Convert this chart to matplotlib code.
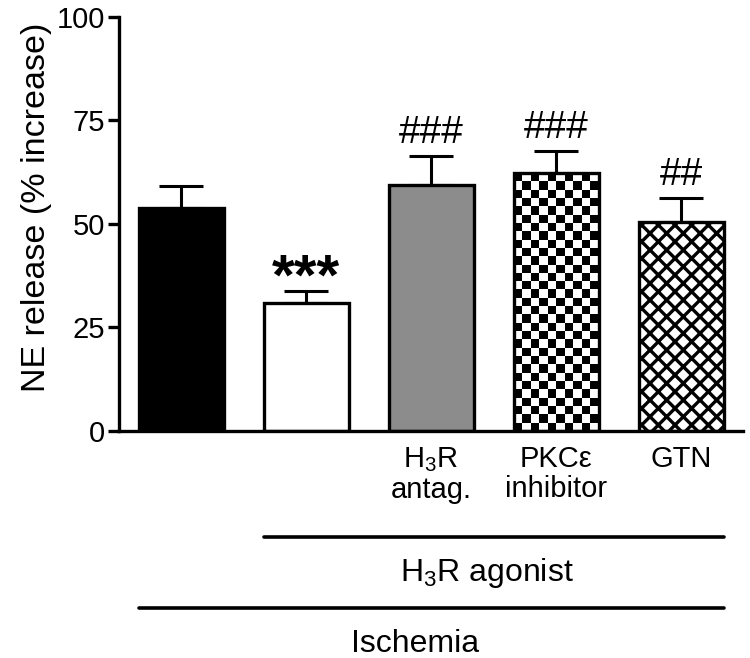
import numpy as np
import matplotlib
matplotlib.use("Agg")
import matplotlib.pyplot as plt

plt.rcParams['font.family'] = ['Liberation Sans', 'DejaVu Sans']
plt.rcParams['mathtext.fontset'] = 'custom'
plt.rcParams['mathtext.rm'] = 'Liberation Sans'
plt.rcParams['hatch.linewidth'] = 2.4

# data
groups = ["", "", "H$_3$R\nantag.", "PKC\u03b5\ninhibitor", "GTN"]
values = [53.9, 30.9, 59.4, 62.3, 50.5]
errors = [5.3, 2.9, 7.0, 5.3, 5.8]
marks = ["", "***", "###", "###", "##"]
yticks = [0, 25, 50, 75, 100]

x = np.arange(len(values))
width = 0.68

fig = plt.figure(figsize=(7.5, 6.58), dpi=100)
ax = fig.add_axes([0.1587, 0.3450, 0.832, 0.6292])

faces = ["black", "white", "#8c8c8c", "none", "white"]
hatches = [None, None, None, None, "xx"]
bars = ax.bar(x, values, width=width, color=faces, edgecolor="black",
              linewidth=2.4, zorder=2)
for b, h in zip(bars, hatches):
    if h:
        b.set_hatch(h)

# checkerboard fill for the PKCe inhibitor bar
b4 = bars[3]
ncol, nrow = 10, int(round(values[3] / 2.0))
board = np.indices((nrow, ncol)).sum(axis=0) % 2
im = ax.imshow(board, cmap="gray", interpolation="nearest", aspect="auto",
               extent=(x[3] - width / 2, x[3] + width / 2, 0, values[3]),
               zorder=1.5)
im.set_clip_path(b4)

ax.errorbar(x, values, yerr=[np.zeros(len(errors)), errors], fmt="none",
            ecolor="black", elinewidth=2.2, capsize=16, capthick=2.2, zorder=1)

for xi, v, e, m in zip(x, values, errors, marks):
    if m == "***":
        ax.text(xi, v + e - 0.8, m, ha="center", va="baseline", fontsize=42,
                fontweight="bold")
    elif m:
        ax.text(xi, v + e + 3.2, m, ha="center", va="baseline", fontsize=28)

ax.set_xlim(-0.496, 4.496)
ax.set_ylim(0, 100)
ax.set_yticks(yticks)
ax.set_xticks(x)
ax.set_xticklabels(groups, fontsize=21, linespacing=1.1)
ax.tick_params(axis="x", length=0, pad=10)
ax.tick_params(axis="y", length=8, width=2.4, labelsize=21, pad=2)
ax.set_ylabel("NE release (% increase)", fontsize=24.5)
ax.yaxis.set_label_coords(-0.108, 0.54)

for s in ["top", "right"]:
    ax.spines[s].set_visible(False)
for s in ["left", "bottom"]:
    ax.spines[s].set_linewidth(2.4)

# group brackets below the axis
tr = ax.get_xaxis_transform()
ax.plot([x[1] - width / 2, x[4] + width / 2], [-0.256, -0.256], color="black",
        lw=2.6, transform=tr, clip_on=False, solid_capstyle="round")
ax.text((x[1] + x[4]) / 2 - 0.05, -0.343, "H$_3$R agonist", ha="center",
        va="center", fontsize=23, transform=tr)
ax.plot([x[0] - width / 2, x[4] + width / 2], [-0.4275, -0.4275], color="black",
        lw=2.6, transform=tr, clip_on=False, solid_capstyle="round")
ax.text(1.87, -0.515, "Ischemia", ha="center", va="center",
        fontsize=23, transform=tr)

fig.savefig("out.png", dpi=100)
